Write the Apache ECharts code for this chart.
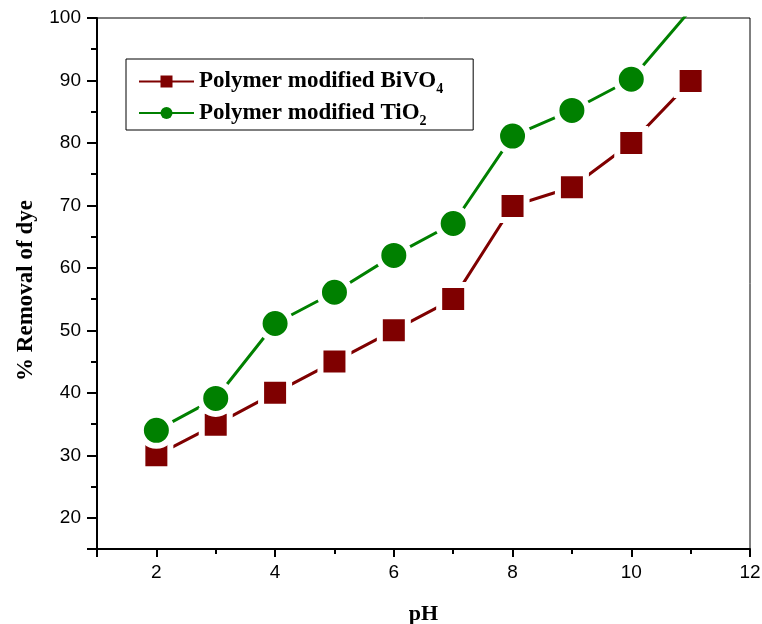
<!DOCTYPE html>
<html>
<head>
<meta charset="utf-8">
<script src="https://cdn.jsdelivr.net/npm/echarts@6/dist/echarts.min.js"></script>
<style>
  html, body { margin: 0; padding: 0; background: #fff; }
  #chart { width: 762px; height: 624px; }
</style>
</head>
<body>
<div id="chart"></div>
<script>
// pH values and % removal
var ph = [2, 3, 4, 5, 6, 7, 8, 9, 10, 11]
var bivo4 = [30, 34.9, 40, 45, 50, 55, 69.9, 72.9, 80, 89.9]
var tio2 = [34, 39.1, 51.1, 56.1, 62, 67.1, 81.1, 85.2, 90.2, 101.3]

// tick positions
var xMajor = [1, 2, 4, 6, 8, 10, 12]
var xLabels = [2, 4, 6, 8, 10, 12]
var xMinor = [3, 5, 7, 9, 11]
var yMajor = [15, 20, 30, 40, 50, 60, 70, 80, 90, 100]
var yLabels = [20, 30, 40, 50, 60, 70, 80, 90, 100]
var yMinor = [25, 35, 45, 55, 65, 75, 85, 95]

function pairs(xs, ys) {
  return xs.map(function(x, i) { return [x, ys[i]] })
}

var grid = { left: 97, top: 18, right: 12, bottom: 75, outerBoundsMode: 'none', containLabel: false }
var labelFont = { fontFamily: 'Liberation Sans', fontSize: 19, color: '#000' }
var nameFont = { fontFamily: 'Liberation Serif', fontWeight: 'bold', color: '#000' }

var chart = echarts.init(document.getElementById('chart'))
chart.setOption({
  animation: false,
  backgroundColor: '#fff',
  grid: [
    Object.assign({ show: true, borderColor: '#000', borderWidth: 1 }, grid),
    Object.assign({}, grid)
  ],
  legend: {
    orient: 'vertical',
    left: 126,
    top: 59,
    padding: [11, 30, 2, 12],
    itemGap: 5,
    itemWidth: 55,
    itemHeight: 15,
    borderColor: '#000',
    borderWidth: 1,
    textStyle: {
      fontFamily: 'Liberation Serif',
      fontWeight: 'bold',
      fontSize: 23,
      color: '#000',
      rich: {
        t: { fontFamily: 'Liberation Serif', fontWeight: 'bold', fontSize: 23, color: '#000' },
        s: { fontFamily: 'Liberation Serif', fontWeight: 'bold', fontSize: 14, color: '#000', padding: [16, 0, 0, 0] }
      }
    },
    formatter: function(name) {
      if (name === 'BiVO4') return '{t|Polymer modified BiVO}{s|4}'
      return '{t|Polymer modified TiO}{s|2}'
    },
    data: [
      { name: 'BiVO4', itemStyle: { borderWidth: 0 } },
      { name: 'TiO2', itemStyle: { borderWidth: 0 } }
    ]
  },
  xAxis: [
    {
      type: 'value',
      gridIndex: 0,
      min: 1,
      max: 12,
      name: 'pH',
      nameLocation: 'middle',
      nameGap: 54,
      nameTextStyle: Object.assign({ fontSize: 22 }, nameFont),
      axisLine: { lineStyle: { color: '#000', width: 2 } },
      axisTick: { length: 8, customValues: xMajor, lineStyle: { color: '#000', width: 2 } },
      axisLabel: Object.assign({ margin: 14, customValues: xLabels }, labelFont),
      splitLine: { show: false }
    },
    {
      type: 'value',
      gridIndex: 1,
      min: 1,
      max: 12,
      axisLine: { show: false },
      axisTick: { length: 5, customValues: xMinor, lineStyle: { color: '#000', width: 2 } },
      axisLabel: { show: false },
      splitLine: { show: false }
    }
  ],
  yAxis: [
    {
      type: 'value',
      gridIndex: 0,
      min: 15,
      max: 100,
      name: '% Removal of dye',
      nameLocation: 'middle',
      nameGap: 59,
      nameTextStyle: Object.assign({ fontSize: 23, padding: [0, 14, 0, 0] }, nameFont),
      axisLine: { lineStyle: { color: '#000', width: 2 } },
      axisTick: { length: 10, customValues: yMajor, lineStyle: { color: '#000', width: 2 } },
      axisLabel: Object.assign({ margin: 16, customValues: yLabels }, labelFont),
      splitLine: { show: false }
    },
    {
      type: 'value',
      gridIndex: 1,
      min: 15,
      max: 100,
      axisLine: { show: false },
      axisTick: { length: 6, customValues: yMinor, lineStyle: { color: '#000', width: 2 } },
      axisLabel: { show: false },
      splitLine: { show: false }
    }
  ],
  series: [
    {
      name: 'BiVO4',
      type: 'line',
      xAxisIndex: 0,
      yAxisIndex: 0,
      symbol: 'rect',
      symbolSize: 28,
      color: '#7f0000',
      lineStyle: { width: 3, color: '#7f0000' },
      itemStyle: { color: '#7f0000', borderColor: '#fff', borderWidth: 6 },
      data: pairs(ph, bivo4)
    },
    {
      name: 'TiO2',
      type: 'line',
      xAxisIndex: 0,
      yAxisIndex: 0,
      symbol: 'circle',
      symbolSize: 31,
      color: '#008000',
      lineStyle: { width: 3, color: '#008000' },
      itemStyle: { color: '#008000', borderColor: '#fff', borderWidth: 6 },
      data: pairs(ph, tio2)
    }
  ]
})
</script>
</body>
</html>
